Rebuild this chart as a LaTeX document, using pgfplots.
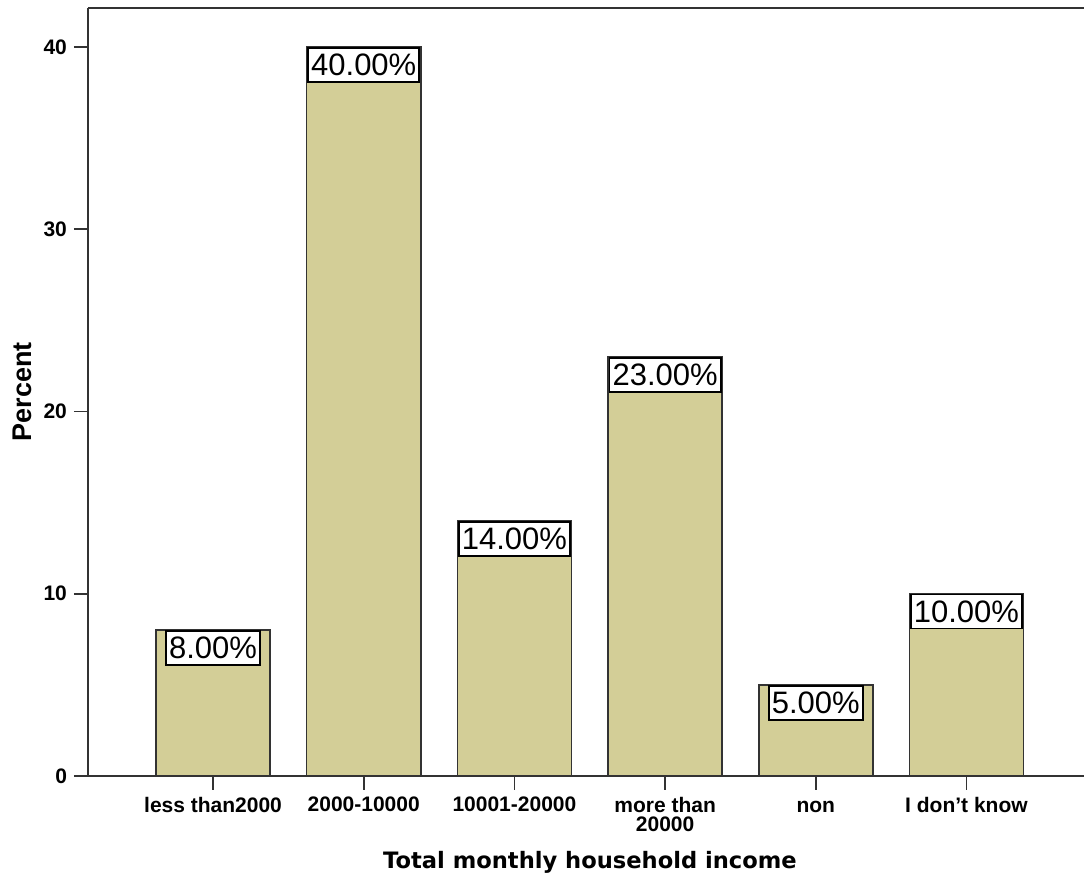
\documentclass[border=0pt]{standalone}
\usepackage{fontspec}
\setmainfont{Liberation Sans}
\newfontfamily\titlefont{DejaVu Sans}
\usepackage{pgfplots}
\pgfplotsset{compat=1.18}
\definecolor{barfill}{RGB}{211,206,151}
\definecolor{axisgray}{RGB}{51,51,51}

\begin{document}
\begin{tikzpicture}
% page frame: 1 px of the layout = 0.5pt
\useasboundingbox (-44pt,-54pt) rectangle (498pt,388pt);
\begin{axis}[
  at={(0pt,0pt)}, anchor=south west,
  scale only axis, width=498pt, height=384pt,
  xmin=-0.83, xmax=5.78, ymin=0, ymax=42.14,
  ybar, bar width=0.757, bar shift=0pt,
  clip=false,
  xtick={0,...,5},
  xticklabels={less than2000, 2000-10000, 10001-20000, {more than\\20000}, {\vphantom{h}non}, I don’t know},
  ytick={0,10,20,30,40},
  axis x line*=bottom, axis y line*=left,
  axis line style={axisgray, line width=1pt, -},
  tick align=outside,
  major tick length=7pt,
  tick style={axisgray, line width=0.9pt},
  /pgf/number format/assume math mode=true,
  xticklabel style={font=\bfseries\fontsize{10.5}{9.6}\selectfont, align=center},
  yticklabel style={font=\bfseries\fontsize{10.5}{12}\selectfont},
  xlabel={Total monthly household income},
  xlabel style={at={(axis description cs:0.504,-0.1127)}, anchor=center,
    font=\titlefont\bfseries\fontsize{11.3}{13}\selectfont},
  ylabel={Percent},
  ylabel style={at={(axis description cs:-0.0663,0.5)}, anchor=center,
    font=\bfseries\fontsize{13.5}{15}\selectfont},
  nodes near coords={\pgfmathprintnumber[fixed,fixed zerofill,precision=2]{\pgfplotspointmeta}\%},
  nodes near coords style={anchor=north, draw=black, line width=0.85pt, fill=white,
    font=\fontsize{15.5}{15.5}\selectfont, inner xsep=1.5pt, inner ysep=0pt,
    minimum height=17pt},
]
\addplot[fill=barfill, draw=black!80, line width=0.75pt] coordinates {
  (0,8) (1,40) (2,14) (3,23) (4,5) (5,10)
};
\draw[axisgray, line width=1pt] (rel axis cs:0,1) -- (rel axis cs:1,1);
\end{axis}
\end{tikzpicture}
\end{document}
